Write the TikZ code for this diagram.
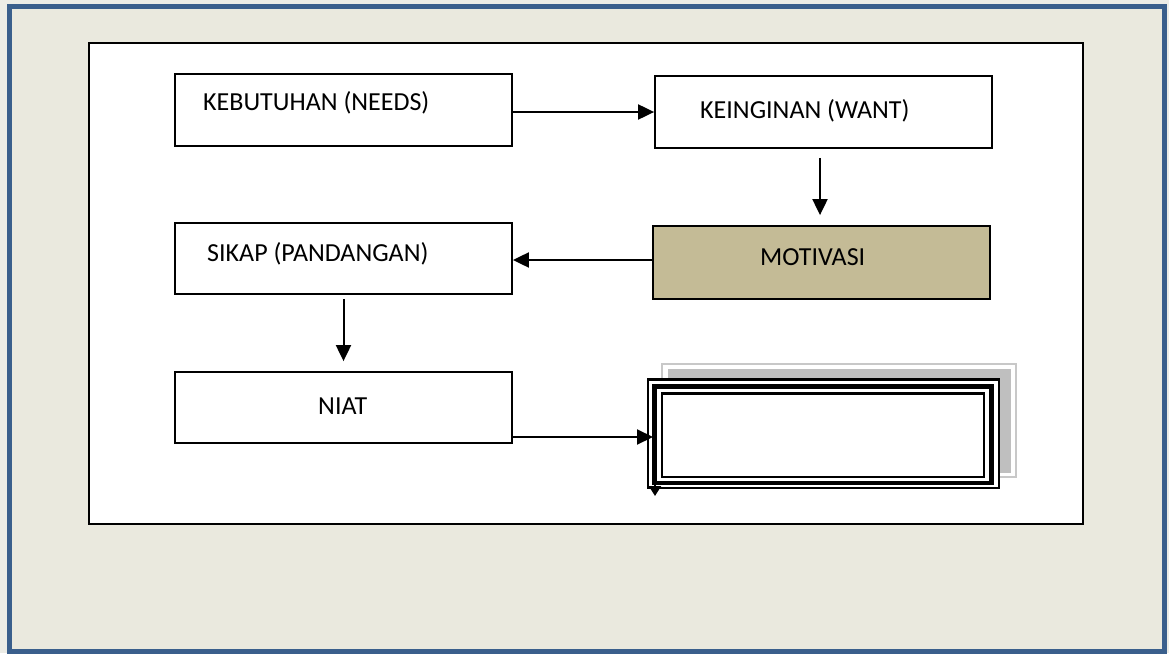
\documentclass[tikz,border=0pt]{standalone}
\usepackage{fontspec}
\setmainfont{Carlito}
\usetikzlibrary{arrows.meta}
\definecolor{pagebg}{HTML}{ECECE6}
\definecolor{panelbg}{HTML}{EAE9DE}
\definecolor{frameblue}{HTML}{3A5F8C}
\definecolor{motfill}{HTML}{C4BB96}
\definecolor{shadowgray}{HTML}{BFBFBF}
\definecolor{shadowline}{HTML}{C8C8C8}
\tikzset{
  box/.style={draw=black, line width=1.8pt, fill=white, inner sep=0pt, minimum width=337pt},
  lbl/.style={anchor=base west, inner sep=0pt, font=\fontsize{26}{30}\selectfont},
  arr/.style={draw=black, line width=2pt, -{Triangle[length=16pt,width=15pt]}},
  smallarr/.style={draw=black, line width=2pt, -{Triangle[length=10pt,width=12pt]}},
}
\begin{document}
\begin{tikzpicture}[x=1pt,y=-1pt]
\useasboundingbox (0,0) rectangle (1169,653);
% page and frame
\fill[pagebg] (0,0) rectangle (1169,653);
\filldraw[fill=panelbg, draw=frameblue, line width=5pt] (9.5,6) rectangle (1164.5,651);
% inner white panel
\node[draw=black, line width=1.6pt, fill=white, inner sep=0pt, minimum width=994pt, minimum height=481pt] (panel) at (586,283.5) {};

% boxes
\node[box, minimum height=72pt] (kb) at (343.5,110) {};
\node[box, minimum height=72pt] (kw) at (823.5,112) {};
\node[box, fill=motfill, minimum height=73pt] (mo) at (821.5,262.5) {};
\node[box, minimum height=71pt] (sk) at (343.5,258.5) {};
\node[box, minimum height=71pt] (ni) at (343.5,407.5) {};

% labels
\node[lbl] (tkb) at (203,110.5) {KEBUTUHAN (NEEDS)};
\node[lbl] (tkw) at (700,118) {KEINGINAN (WANT)};
\node[lbl] (tmo) at (760,265) {MOTIVASI};
\node[lbl] (tsk) at (207,261) {SIKAP (PANDANGAN)};
\node[lbl] (tni) at (318,414) {NIAT};

% shadow of empty box
\node[draw=shadowline, line width=1.6pt, fill=white, inner sep=0pt, minimum width=354pt, minimum height=113pt] (cbs) at (839,420.5) {};
\node[fill=shadowgray, inner sep=0pt, minimum width=343pt, minimum height=104pt] (cbf) at (839,421) {};
% empty box with thin-thick-thin border
\node[draw=black, line width=2.5pt, fill=white, inner sep=0pt, minimum width=351pt, minimum height=108.5pt] (cbo) at (823.5,433.75) {};
\node[draw=black, line width=4.5pt, inner sep=0pt, minimum width=337pt, minimum height=96.5pt] (cbt) at (823,434.75) {};
\node[draw=black, line width=2.5pt, inner sep=0pt, minimum width=322pt, minimum height=83.5pt] (cbi) at (823,435.25) {};

% connectors
\draw[arr] (kb.east |- kw.west) -- (kw.west);
\draw[arr, shorten <=9pt, shorten >=10pt] (kw.south -| 820,0) -- (mo.north -| 820,0);
\draw[arr] (mo.west |- 0,260) -- (sk.east |- 0,260);
\draw[arr, shorten <=4pt, shorten >=10pt] (sk.south) -- (ni.north);
\coordinate (ntip) at (653,437);
\coordinate (dtop) at (655,437);
\coordinate (dend) at (655,496);
\draw[arr] (ni.east |- ntip) -- (ntip);
\draw[smallarr] (dtop) -- (dend);
\end{tikzpicture}
\end{document}
